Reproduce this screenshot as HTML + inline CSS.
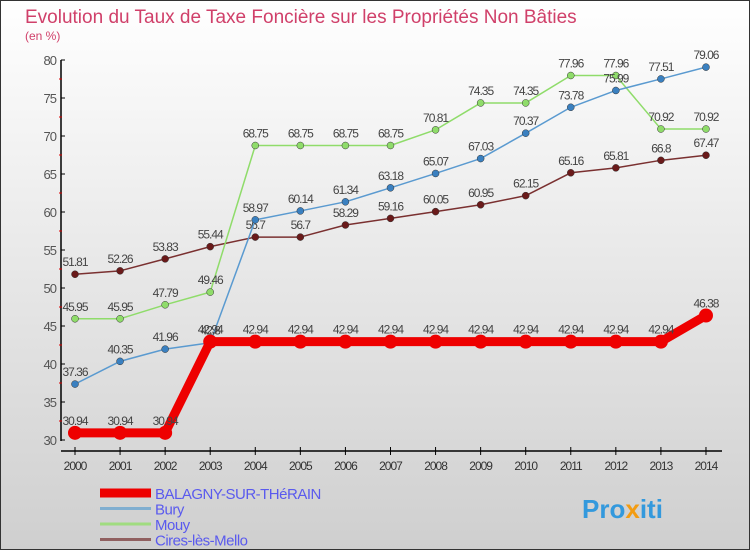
<!DOCTYPE html>
<html><head><meta charset="utf-8"><style>
body{margin:0;}
svg{display:block;font-family:"Liberation Sans",sans-serif;}
</style></head><body>
<svg id="c" width="750" height="550" viewBox="0 0 750 550" xmlns="http://www.w3.org/2000/svg">
<defs><linearGradient id="bg" x1="0" y1="0" x2="0" y2="1"><stop offset="0" stop-color="#ffffff"/><stop offset="1" stop-color="#cfcfcf"/></linearGradient></defs>
<rect x="0.5" y="0.5" width="749" height="549" fill="url(#bg)" stroke="#333"/>
<text x="25" y="23" font-size="19" fill="#d0406a">Evolution du Taux de Taxe Foncière sur les Propriétés Non Bâties</text>
<text x="25" y="40" font-size="12" fill="#d0406a">(en %)</text>
<g id="axes"></g><g id="series"></g><g id="legend"></g>
<text x="582" y="518" font-size="26" font-weight="bold" fill="#3399dd">Pro<tspan fill="#f39c12">x</tspan>iti</text>
</svg>
<script>
const years=[2000,2001,2002,2003,2004,2005,2006,2007,2008,2009,2010,2011,2012,2013,2014];
const yTicks=[30,35,40,45,50,55,60,65,70,75,80];
const balagny=[30.94,30.94,30.94,42.94,42.94,42.94,42.94,42.94,42.94,42.94,42.94,42.94,42.94,42.94,46.38];
const bury=[37.36,40.35,41.96,42.8,58.97,60.14,61.34,63.18,65.07,67.03,70.37,73.78,75.99,77.51,79.06];
const mouy=[45.95,45.95,47.79,49.46,68.75,68.75,68.75,68.75,70.81,74.35,74.35,77.96,77.96,70.92,70.92];
const cires=[51.81,52.26,53.83,55.44,56.7,56.7,58.29,59.16,60.05,60.95,62.15,65.16,65.81,66.8,67.47];
const names=["BALAGNY-SUR-THéRAIN","Bury","Mouy","Cires-lès-Mello"];
const NS="http://www.w3.org/2000/svg";
const x0=75,dx=45.07,yb=440,ky=7.6;
const X=i=>x0+i*dx, Y=v=>yb-(v-30)*ky;
function mk(p,t,a){const e=document.createElementNS(NS,t);for(const k in a)e.setAttribute(k,a[k]);p.appendChild(e);return e;}
const ax=document.getElementById('axes');
mk(ax,'line',{x1:61,y1:60,x2:61,y2:441,stroke:'#000','stroke-width':1.5});
mk(ax,'line',{x1:61,y1:451,x2:722,y2:451,stroke:'#000','stroke-width':1.5});
yTicks.forEach(v=>{
 const l=mk(ax,'line',{x1:61,y1:Y(v),x2:65,y2:Y(v),stroke:'#000'});
 
 
 if(v<80){const m=mk(ax,'line',{x1:59,y1:Y(v+2.5),x2:62,y2:Y(v+2.5),stroke:'#d00'});}
 const t=mk(ax,'text',{x:56,y:Y(v)+5,'text-anchor':'end','font-size':13,fill:'#555','letter-spacing':'-1'});t.textContent=v;
 
 
});
years.forEach((y,i)=>{
 mk(ax,'line',{x1:X(i),y1:447,x2:X(i),y2:455,stroke:'#000'});
 const t=mk(ax,'text',{x:X(i),y:470,'text-anchor':'middle','font-size':12,fill:'#333','letter-spacing':'-1'});t.textContent=y;
 
 
});
const sg=document.getElementById('series');
function series(data,color,w,r,dot,name,lblColor){
 const g=mk(sg,'g',{});
 
 
 mk(g,'polyline',{points:data.map((v,i)=>X(i)+','+Y(v)).join(' '),fill:'none',stroke:color,'stroke-width':w,'stroke-linejoin':'round'});
 data.forEach((v,i)=>{
  const c=mk(g,'circle',{cx:X(i),cy:Y(v),r:r,fill:dot,stroke:w>3?'none':'#333','stroke-width':0.5});
  
  
  const t=mk(g,'text',{x:X(i),y:Y(v)-8,'text-anchor':'middle','font-size':12,fill:'#444','letter-spacing':'-1'});t.textContent=v;
 });
}
series(cires,'#7a3030',1.5,3.5,'#6a1a1a','series-cires');
series(mouy,'#8fdc6a',1.5,3.5,'#8fdc6a','series-mouy');
series(bury,'#5a9ad0',1.5,3.5,'#3a80c0','series-bury');
series(balagny,'#ee0000',9,7,'#ee0000','series-balagny');
const lg=document.getElementById('legend');
const lc=['#ee0000','#80aed0','#a0dc80','#906060'],lw=[9,3,3,3];
names.forEach((n,i)=>{
 const y=493+i*15.5;
 const g=mk(lg,'g',{});
 
 
 mk(g,'line',{x1:100,y1:y,x2:151,y2:y,stroke:lc[i],'stroke-width':lw[i]});
 const t=mk(g,'text',{x:155,y:y+6,'font-size':15,fill:'#5a5aee','letter-spacing':'-0.5'});t.textContent=n;
});
</script>
</body></html>
